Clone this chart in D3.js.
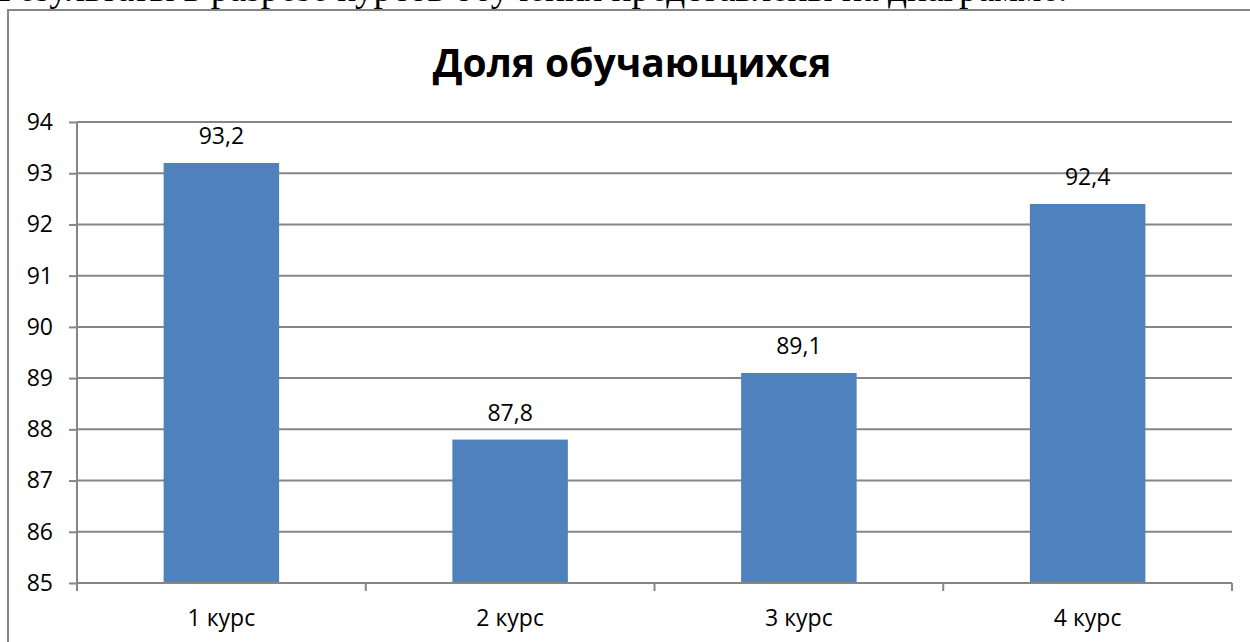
<!DOCTYPE html>
<html>
<head>
<meta charset="utf-8">
<script src="https://cdn.jsdelivr.net/npm/d3@7"></script>
<style>
  html, body { margin: 0; padding: 0; background: #fff; overflow: hidden; }
</style>
</head>
<body>
<svg id="chart" width="1250" height="642"></svg>
<script>
let categories = ["1 курс", "2 курс", "3 курс", "4 курс"];
let values = [93.2, 87.8, 89.1, 92.4];
let valueLabels = ["93,2", "87,8", "89,1", "92,4"];
let yTicks = [85, 86, 87, 88, 89, 90, 91, 92, 93, 94];

let svg = d3.select("#chart");
let font = "Open Sans, Noto Sans, sans-serif";

// cut-off line of document text above the chart
let para = svg.append("text")
    .attr("x", -2)
    .attr("y", 1)
    .attr("font-family", "Liberation Serif, Times New Roman, serif")
    .attr("font-size", 30)
    .attr("fill", "#000")
    .text("Результаты в разрезе курсов обучения представлены на диаграмме.");
let paraLen = para.node().getComputedTextLength();
para.attr("font-size", 30 * 1070 / paraLen);

// chart frame
svg.append("path")
    .attr("d", "M8,700 L8,10 L1260,10")
    .attr("fill", "none")
    .attr("stroke", "#868686")
    .attr("stroke-width", 2);

let plotLeft = 77, plotRight = 1232, plotTop = 122, plotBottom = 583;

let x = d3.scaleBand()
    .domain(categories)
    .range([plotLeft, plotRight])
    .paddingInner(0.6)
    .paddingOuter(0.3);

let xEdges = d3.scaleLinear().domain([0, categories.length]).range([plotLeft, plotRight]);

let y = d3.scaleLinear()
    .domain([85, 94])
    .range([plotBottom, plotTop]);

// gridlines
svg.append("g")
  .selectAll("line")
  .data(yTicks)
  .enter()
  .append("line")
    .attr("x1", plotLeft)
    .attr("x2", plotRight)
    .attr("y1", d => y(d))
    .attr("y2", d => y(d))
    .attr("stroke", "#868686")
    .attr("stroke-width", 2);

// bars
svg.append("g")
  .selectAll("rect")
  .data(values)
  .enter()
  .append("rect")
    .attr("x", (d, i) => x(categories[i]))
    .attr("y", d => y(d))
    .attr("width", x.bandwidth())
    .attr("height", d => y(85) - y(d))
    .attr("fill", "#4f81bd");

// y axis
let yAxis = d3.axisLeft(y).tickValues(yTicks).tickSize(8).tickPadding(16).tickFormat(d3.format("d"));
let gy = svg.append("g")
    .attr("transform", "translate(" + plotLeft + ",0)")
    .call(yAxis);
gy.select(".domain").attr("stroke", "#868686").attr("stroke-width", 2)
    .attr("d", "M0," + plotTop + "V" + (plotBottom + 8));
gy.selectAll(".tick line").attr("stroke", "#868686").attr("stroke-width", 2);
gy.selectAll(".tick text")
    .attr("font-family", font)
    .attr("font-size", 23)
    .attr("fill", "#000");

// x axis
svg.append("line")
    .attr("x1", plotLeft).attr("x2", plotRight)
    .attr("y1", plotBottom).attr("y2", plotBottom)
    .attr("stroke", "#868686").attr("stroke-width", 2);
svg.append("g")
  .selectAll("line")
  .data(d3.range(categories.length + 1))
  .enter()
  .append("line")
    .attr("x1", d => xEdges(d))
    .attr("x2", d => xEdges(d))
    .attr("y1", plotBottom)
    .attr("y2", plotBottom + 8)
    .attr("stroke", "#868686")
    .attr("stroke-width", 2);

svg.append("g")
  .selectAll("text")
  .data(categories)
  .enter()
  .append("text")
    .attr("x", d => x(d) + x.bandwidth() / 2)
    .attr("y", 626)
    .attr("text-anchor", "middle")
    .attr("font-family", font)
    .attr("font-size", 23)
    .attr("fill", "#000")
    .text(d => d);

// value labels
svg.append("g")
  .selectAll("text")
  .data(values)
  .enter()
  .append("text")
    .attr("x", (d, i) => x(categories[i]) + x.bandwidth() / 2)
    .attr("y", d => y(d) - 19)
    .attr("text-anchor", "middle")
    .attr("font-family", font)
    .attr("font-size", 23)
    .attr("fill", "#000")
    .text((d, i) => valueLabels[i]);

// title
svg.append("text")
    .attr("x", 632)
    .attr("y", 77)
    .attr("text-anchor", "middle")
    .attr("font-family", font)
    .attr("font-weight", "bold")
    .attr("font-size", 39)
    .attr("fill", "#000")
    .text("Доля обучающихся");
</script>
</body>
</html>
